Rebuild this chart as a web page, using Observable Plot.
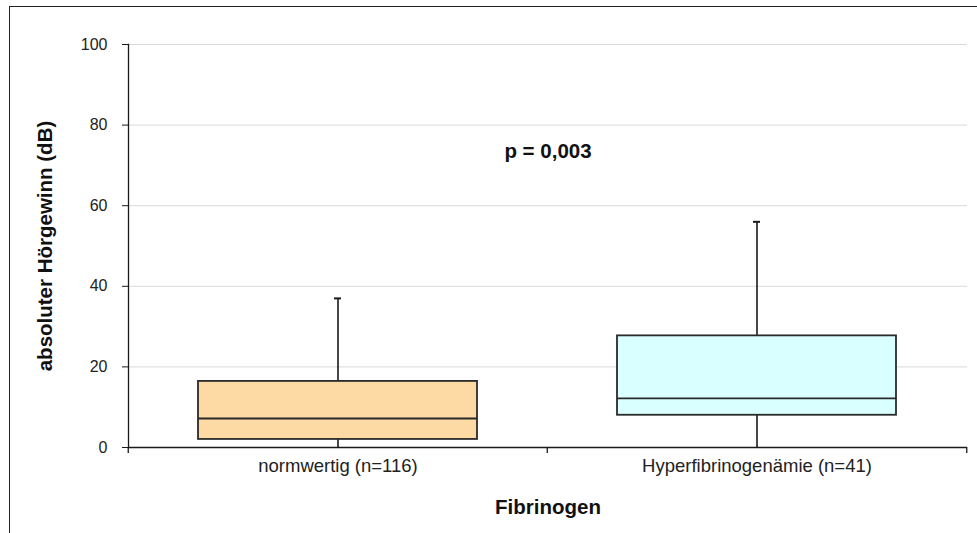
<!DOCTYPE html>
<html><head><meta charset="utf-8">
<script src="https://cdn.jsdelivr.net/npm/d3@7"></script>
<script src="https://cdn.jsdelivr.net/npm/@observablehq/plot@0.6"></script>
<style>
body{margin:0;background:#fff;overflow:hidden}
#wrap{position:relative;width:977px;height:533px;overflow:hidden;background:#fff}
#wrap svg{position:absolute;left:0;top:0}
#border{position:absolute;left:9px;top:6px;width:1100px;height:700px;border:1.5px solid #222;pointer-events:none}
</style></head><body><div id="wrap"></div>
<script>
const categories = ["normwertig (n=116)", "Hyperfibrinogenämie (n=41)"];
const whiskerLow = [0, 0];
const q1 = [2, 8];
const median = [7.2, 12.2];
const q3 = [16.4, 27.7];
const whiskerHigh = [37, 56];
const boxFills = ["#FDD9A3", "#D9FFFF"];
const yTicks = [0, 20, 40, 60, 80, 100];
const yLabel = "absoluter Hörgewinn (dB)";
const xLabel = "Fibrinogen";
const annotation = "p = 0,003";

const data = categories.map((c, i) => ({cat: c, lo: whiskerLow[i], q1: q1[i], med: median[i], q3: q3[i], hi: whiskerHigh[i], fill: boxFills[i]}));

const W = 977, H = 533, ML = 128, MR = 10, MT = 44, MB = 86;
const halfStep = (W - ML - MR) / categories.length / 2;
const font = "Liberation Sans, Arial, sans-serif";
const ink = "#1a1a1a";

const chart = Plot.plot({
  width: W, height: H,
  marginLeft: ML, marginRight: MR, marginTop: MT, marginBottom: MB,
  style: {fontFamily: font, background: "transparent", color: ink},
  x: {domain: categories, paddingInner: 1/3, paddingOuter: 1/6, label: null},
  y: {domain: [0, 100], label: null},
  color: {type: "identity"},
  marks: [
    Plot.gridY(yTicks, {stroke: "#d9d9d9", strokeOpacity: 1}),
    Plot.axisY(yTicks, {tickSize: 6, tickPadding: 15, fontSize: 16, stroke: ink, fill: "#222", label: null}),
    Plot.axisX({tickSize: 0, tickPadding: 11, fontSize: 18.5, fill: "#222", label: null}),
    Plot.ruleX(data, {x: "cat", y1: "q3", y2: "hi", stroke: ink, strokeWidth: 1.6}),
    Plot.ruleX(data, {x: "cat", y1: "lo", y2: "q1", stroke: ink, strokeWidth: 1.6}),
    Plot.tickY(data, {x: "cat", y: "hi", stroke: ink, strokeWidth: 2, insetLeft: 136, insetRight: 136}),
    Plot.barY(data, {x: "cat", y1: "q1", y2: "q3", fill: "fill", stroke: "#2a2a2a", strokeWidth: 1.8}),
    Plot.tickY(data, {x: "cat", y: "med", stroke: "#2a2a2a", strokeWidth: 1.8}),
    Plot.ruleY([0], {stroke: ink, strokeWidth: 1.3}),
    Plot.frame({anchor: "left", stroke: ink, strokeWidth: 1.3}),
    Plot.ruleX([categories[0]], {x: d => d, dx: -halfStep, y1: 0, y2: -1.5, stroke: ink, strokeWidth: 1.3}),
    Plot.ruleX([categories[1]], {x: d => d, dx: -halfStep, y1: 0, y2: -1.5, stroke: ink, strokeWidth: 1.3}),
    Plot.ruleX([categories[1]], {x: d => d, dx: halfStep, y1: 0, y2: -1.5, stroke: ink, strokeWidth: 1.3}),
    Plot.text([annotation], {frameAnchor: "middle", y: [73.5], text: d => d, fontSize: 20.5, fontWeight: "bold", fill: "#111"}),
    Plot.text([xLabel], {frameAnchor: "bottom", dy: 66, text: d => d, fontSize: 20.5, fontWeight: "bold", fill: "#111"}),
    Plot.text([yLabel], {frameAnchor: "left", dx: -83, rotate: -90, textAnchor: "middle", text: d => d, fontSize: 20.5, fontWeight: "bold", fill: "#111"})
  ]
});
const wrap = document.getElementById("wrap");
wrap.appendChild(chart);
const b = document.createElement("div"); b.id = "border"; wrap.appendChild(b);
</script></body></html>
